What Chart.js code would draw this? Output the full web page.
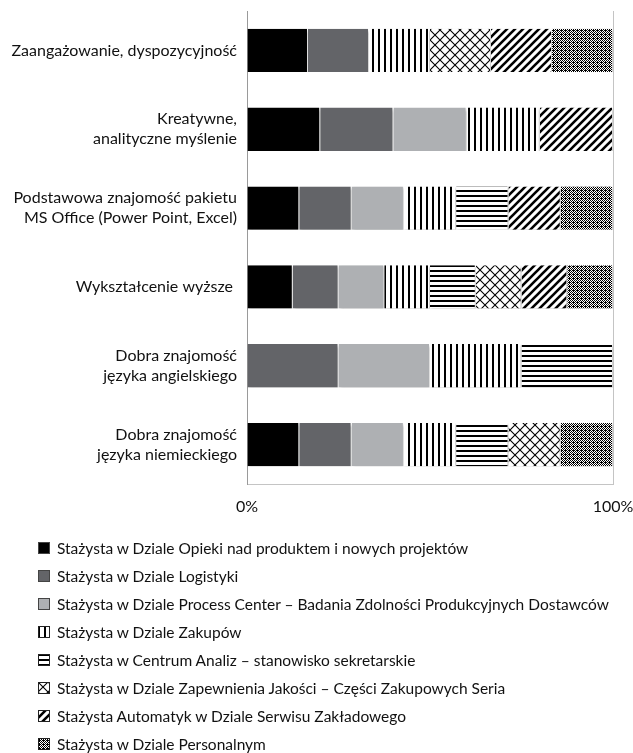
<!DOCTYPE html>
<html lang="pl">
<head>
<meta charset="utf-8">
<script src="https://cdn.jsdelivr.net/npm/chart.js@4.4.1/dist/chart.umd.min.js"></script>
<style>
  body { margin: 0; background: #fff; font-family: Lato, "Open Sans", sans-serif; }
  #wrap { position: relative; width: 633px; height: 753px; overflow: hidden; }
  #chart { position: absolute; left: 0; top: 0; }
  #legend { position: absolute; left: 38px; top: 534px; margin: 0; padding: 0; list-style: none; }
  #legend li { height: 28px; display: flex; align-items: center; font-size: 15.5px; color: #111; white-space: nowrap; }
  #legend canvas { width: 12px; height: 12px; margin-right: 7px; }
</style>
</head>
<body>
<div id="wrap">
  <canvas id="chart" width="633" height="530"></canvas>
  <ul id="legend"></ul>
</div>
<script>
// Wymagania wobec stażystów — wykres 100% skumulowany, wzory czarno-białe.

const categories = [
  "Zaangażowanie, dyspozycyjność",
  ["Kreatywne,", "analityczne myślenie"],
  ["Podstawowa znajomość pakietu", "MS Office (Power Point, Excel)"],
  "Wykształcenie wyższe ",
  ["Dobra znajomość", "języka angielskiego"],
  ["Dobra znajomość", "języka niemieckiego"],
];

const seriesNames = [
  "Stażysta w Dziale Opieki nad produktem i nowych projektów",
  "Stażysta w Dziale Logistyki",
  "Stażysta w Dziale Process Center – Badania Zdolności Produkcyjnych Dostawców",
  "Stażysta w Dziale Zakupów",
  "Stażysta w Centrum Analiz – stanowisko sekretarskie",
  "Stażysta w Dziale Zapewnienia Jakości – Części Zakupowych Seria",
  "Stażysta Automatyk w Dziale Serwisu Zakładowego",
  "Stażysta w Dziale Personalnym",
];

// 1 = dział wskazał wymaganie, 0 = nie wskazał (kolejność jak categories)
const opiekiProduktu = [1, 1, 1, 1, 0, 1];
const logistyki      = [1, 1, 1, 1, 1, 1];
const processCenter  = [0, 1, 1, 1, 1, 1];
const zakupow        = [1, 1, 1, 1, 1, 1];
const centrumAnaliz  = [0, 0, 1, 1, 1, 1];
const jakosci        = [1, 0, 0, 1, 0, 1];
const automatyk      = [1, 1, 1, 1, 0, 0];
const personalny     = [1, 0, 1, 1, 0, 1];

const xTicks = [0, 100];

const seriesValues = [opiekiProduktu, logistyki, processCenter, zakupow,
  centrumAnaliz, jakosci, automatyk, personalny];

// ---- Wzory ----
function tile(w, h, draw) {
  const c = document.createElement("canvas");
  c.width = w; c.height = h;
  const g = c.getContext("2d");
  g.fillStyle = "#fff";
  g.fillRect(0, 0, w, h);
  draw(g, w, h);
  return c;
}

function makePatterns(ctx) {
  const pat = (c) => ctx.createPattern(c, "repeat");
  return [
    "#000000",
    "#636468",
    "#aeb0b3",
    pat(tile(6, 6, (g) => { g.fillStyle = "#000"; g.fillRect(0, 0, 2, 6); })),
    pat(tile(5, 5, (g) => { g.fillStyle = "#000"; g.fillRect(0, 0, 5, 2); })),
    pat(tile(10, 10, (g) => {
      g.strokeStyle = "#000"; g.lineWidth = 1.1;
      g.beginPath();
      g.moveTo(0, 0); g.lineTo(10, 10);
      g.moveTo(10, 0); g.lineTo(0, 10);
      g.stroke();
    })),
    pat(tile(8, 8, (g) => {
      g.strokeStyle = "#000"; g.lineWidth = 2.6;
      g.beginPath();
      g.moveTo(-4, 12); g.lineTo(12, -4);
      g.moveTo(-4, 4); g.lineTo(4, -4);
      g.moveTo(4, 12); g.lineTo(12, 4);
      g.stroke();
    })),
    pat(tile(4, 4, (g) => {
      g.fillStyle = "#000";
      for (let y = 0; y < 4; y++)
        for (let x = 0; x < 4; x++)
          if ((x + y) % 2 === 0 || (x === 1 && y === 2)) g.fillRect(x, y, 1, 1);
    })),
  ];
}

// udział w 100% słupku
const rowTotals = categories.map((_, i) => seriesValues.reduce((s, arr) => s + arr[i], 0));
const share = (arr) => arr.map((v, i) => (v ? (v / rowTotals[i]) * 100 : null));

const canvas = document.getElementById("chart");
const patterns = makePatterns(canvas.getContext("2d"));

const shadowPlugin = {
  id: "barShadow",
  beforeDatasetsDraw(chart) {
    const c = chart.ctx;
    c.save();
    c.shadowColor = "rgba(0,0,0,0.28)";
    c.shadowBlur = 3;
    c.shadowOffsetY = 2;
    c.shadowOffsetX = 1;
  },
  afterDatasetsDraw(chart) { chart.ctx.restore(); },
};

const FONT = { family: "Lato, 'Open Sans', sans-serif", size: 16, lineHeight: 1.25 };

new Chart(canvas, {
  type: "bar",
  data: {
    labels: categories,
    datasets: seriesNames.map((name, k) => ({
      label: name,
      data: share(seriesValues[k]),
      backgroundColor: patterns[k],
      borderColor: "#ffffff",
      borderWidth: { right: 1, left: 0, top: 0, bottom: 0 },
      borderSkipped: false,
      barPercentage: 0.55,
      categoryPercentage: 1,
    })),
  },
  options: {
    indexAxis: "y",
    responsive: false,
    animation: false,
    layout: { padding: { top: 11, right: 20, left: 0, bottom: 0 } },
    plugins: { legend: { display: false }, tooltip: { enabled: false } },
    scales: {
      x: {
        stacked: true,
        min: 0,
        max: 100,
        afterBuildTicks: (s) => { s.ticks = xTicks.map((v) => ({ value: v })); },
        afterFit: (s) => { s.height = 46; s.paddingLeft = 0; s.paddingRight = 0; },
        ticks: { color: "#111", font: FONT, padding: 13, callback: (v) => v + "%" },
        grid: { color: "#c4c4c4", drawTicks: false },
        border: { color: "#c4c4c4" },
      },
      y: {
        stacked: true,
        afterFit: (s) => { s.width = 247; s.paddingTop = 0; s.paddingBottom = 0; },
        ticks: { color: "#111", font: FONT, padding: 10 },
        grid: { display: false, drawTicks: false },
        border: { color: "#9a9a9a" },
      },
    },
  },
  plugins: [shadowPlugin],
});

// ---- Legenda ----
const legend = document.getElementById("legend");
seriesNames.forEach((name, k) => {
  const li = document.createElement("li");
  const sw = document.createElement("canvas");
  sw.width = 12; sw.height = 12;
  const g = sw.getContext("2d");
  g.fillStyle = patterns[k];
  g.fillRect(0, 0, 12, 12);
  g.strokeStyle = k < 3 ? "#444" : "#222";
  g.lineWidth = 1;
  g.strokeRect(0.5, 0.5, 11, 11);
  li.appendChild(sw);
  li.appendChild(document.createTextNode(name));
  legend.appendChild(li);
});
</script>
</body>
</html>
